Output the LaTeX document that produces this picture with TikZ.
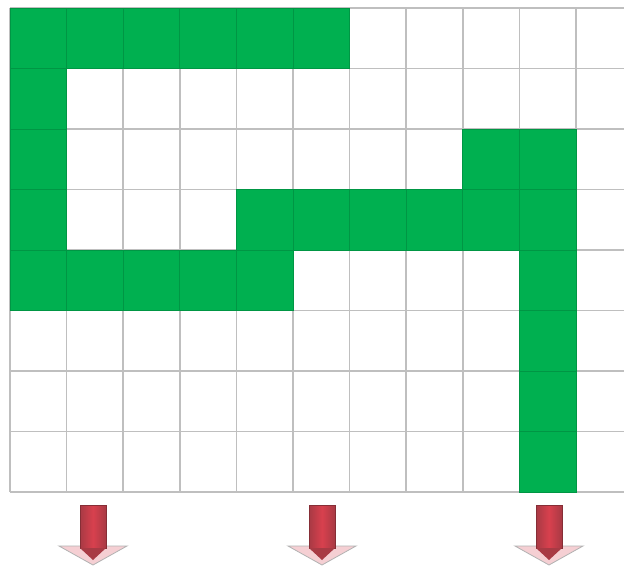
\documentclass[tikz,border=0pt]{standalone}
\begin{document}
\begin{tikzpicture}[x=1pt,y=-1pt,
  gridline/.style={draw=black!25,line width=1.6pt},
  cell/.style={fill=cellgreen,draw=cellgreen!85!black,line width=0.8pt},
  shaft/.style={left color=arrowdark,right color=arrowdark,middle color=arrowlight,draw=arrowdark!80!black,line width=0.4pt},
  head/.style={fill=arrowlight!25!white,draw=black!30,line width=0.8pt}]
\definecolor{cellgreen}{HTML}{00B050}
\definecolor{arrowdark}{HTML}{A83A44}
\definecolor{arrowlight}{HTML}{D8404E}
\useasboundingbox (0,0) rectangle (624,569);
\fill[white] (0,0) rectangle (624,569);
% grid
\foreach \i in {0,...,10} \draw[gridline] ({10+56.6*\i},8) -- ({10+56.6*\i},492);
\foreach \j in {0,...,8} \draw[gridline] (10,{8+60.5*\j}) -- (624,{8+60.5*\j});
% green cells: (col,row)
\foreach \c/\r in {0/0,1/0,2/0,3/0,4/0,5/0,
  0/1,
  0/2,8/2,9/2,
  0/3,4/3,5/3,6/3,7/3,8/3,9/3,
  0/4,1/4,2/4,3/4,4/4,9/4,
  9/5,9/6,9/7}
  \draw[cell] ({10+56.6*\c},{8+60.5*\r}) rectangle ({10+56.6*(\c+1)},{8+60.5*(\r+1)});
% arrows
\foreach \x in {93,322,549}{
  \draw[head] (\x-34,546) -- (\x+34,546) -- (\x,565) -- cycle;
  \draw[shaft] (\x-13,505) rectangle (\x+13,548);
  \fill[arrowdark] (\x-13,548) -- (\x+13,548) -- (\x,560) -- cycle;
}
\end{tikzpicture}
\end{document}
